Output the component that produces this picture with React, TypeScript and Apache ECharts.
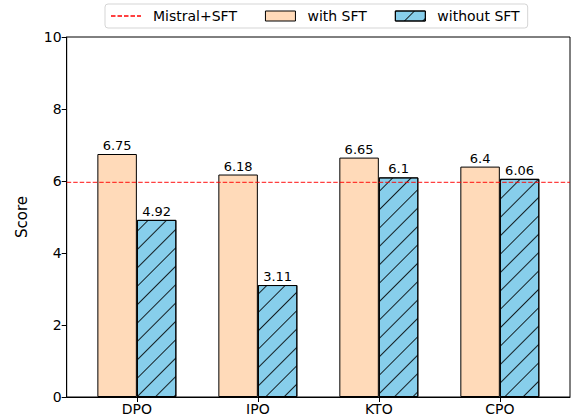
import React, { useEffect, useRef } from "react";
import * as echarts from "echarts";

const categories = ["DPO", "IPO", "KTO", "CPO"];
const withSFT = [6.75, 6.18, 6.65, 6.4];
const withoutSFT = [4.92, 3.11, 6.1, 6.06];
const baseline = 5.96;
const baselineName = "Mistral+SFT";
const yTicks = [0, 2, 4, 6, 8, 10];

const FONT = "DejaVu Sans";
const X_MIN = -0.58;
const X_MAX = 3.58;

export default function App() {
  const ref = useRef<HTMLDivElement>(null);
  useEffect(() => {
    if (!ref.current) return;
    const chart = echarts.init(ref.current, undefined, { renderer: "svg" });
    const labelStyle = {
      show: true,
      position: "top",
      distance: 2,
      color: "#000",
      fontFamily: FONT,
      fontSize: 13,
    };
    const catPositions = categories.map((_, i) => i);
    chart.setOption({
      animation: false,
      textStyle: { fontFamily: FONT },
      grid: {
        left: 66.7,
        right: 3,
        top: 37,
        bottom: 20,
        show: true,
        borderColor: "#000",
        borderWidth: 1,
        backgroundColor: "transparent",
      },
      legend: {
        left: 105,
        top: 4,
        padding: [5, 8, 5, 5],
        itemWidth: 30,
        itemHeight: 10,
        itemGap: 28,
        borderColor: "#d5d5d5",
        borderWidth: 1,
        borderRadius: 3,
        itemStyle: { borderWidth: 1 },
        textStyle: {
          fontFamily: FONT,
          fontSize: 14,
          color: "#000",
          padding: [0, 0, 0, 7],
        },
        data: [
          { name: baselineName, itemStyle: { color: "transparent", borderWidth: 0, opacity: 0 } },
          { name: "with SFT", icon: "rect" },
          { name: "without SFT", icon: "rect" },
        ],
      },
      xAxis: {
        type: "value",
        min: X_MIN,
        max: X_MAX,
        splitLine: { show: false },
        axisLine: { show: true, onZero: false, lineStyle: { color: "#000" } },
        axisTick: {
          show: true,
          length: 5,
          customValues: catPositions,
          lineStyle: { color: "#000" },
        },
        axisLabel: {
          color: "#000",
          fontSize: 14,
          fontFamily: FONT,
          margin: 5,
          customValues: catPositions,
          formatter: (v: number) => categories[Math.round(v)] ?? "",
        },
      },
      yAxis: {
        type: "value",
        min: yTicks[0],
        max: yTicks[yTicks.length - 1],
        interval: 2,
        name: "Score",
        nameLocation: "middle",
        nameGap: 37,
        nameTextStyle: { fontSize: 15, color: "#000", fontFamily: FONT },
        splitLine: { show: false },
        axisLine: { show: true, onZero: false, lineStyle: { color: "#000" } },
        axisTick: { show: true, length: 5, lineStyle: { color: "#000" } },
        axisLabel: { color: "#000", fontSize: 14, fontFamily: FONT, margin: 5 },
      },
      series: [
        {
          name: baselineName,
          type: "line",
          symbol: "none",
          data: [
            [X_MIN, baseline],
            [X_MAX, baseline],
          ],
          lineStyle: { color: "rgba(255,0,0,0.75)", width: 1.3, type: [4.5, 2] },
          itemStyle: { color: "rgba(255,0,0,0.75)" },
          z: 5,
        },
        {
          name: "with SFT",
          type: "bar",
          barWidth: 39.5,
          barGap: "0%",
          data: withSFT.map((v, i) => [i, v]),
          itemStyle: { color: "#FFDAB9", borderColor: "#000", borderWidth: 1 },
          label: labelStyle,
        },
        {
          name: "without SFT",
          type: "bar",
          barWidth: 39.5,
          barGap: "0%",
          data: withoutSFT.map((v, i) => [i, v]),
          itemStyle: {
            color: "#87CEEB",
            borderColor: "#000",
            borderWidth: 1,
            decal: {
              symbol: "rect",
              symbolSize: 1,
              color: "rgba(0,0,0,0.85)",
              dashArrayX: [1, 0],
              dashArrayY: [0.8, 11.9],
              rotation: -Math.PI / 4,
            },
          },
          label: labelStyle,
        },
      ],
    });
    return () => chart.dispose();
  }, []);
  return <div ref={ref} style={{ width: 573, height: 417, position: "absolute", left: 0, top: 0 }} />;
}
